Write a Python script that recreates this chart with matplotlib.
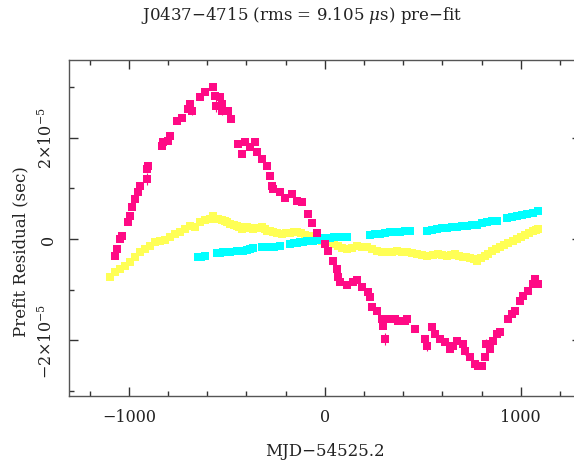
import matplotlib
matplotlib.use("Agg")
import matplotlib.pyplot as plt
from matplotlib.ticker import MultipleLocator, FixedLocator

plt.rcParams['font.family'] = ['DejaVu Serif']
plt.rcParams['mathtext.fontset'] = 'dejavuserif'

# ---- data (MJD-54525.2 in days, residuals in microseconds) ----
mag_x = [-1072, -1061, -1046, -1036, -1005, -995, -985, -969, -954, -944,
         -908, -906, -903, -832, -827, -801, -791, -755, -729, -699,
         -689, -678, -637, -612, -571, -563, -558, -535, -525, -523,
         -494, -479, -443, -423, -408, -382, -357, -346, -321, -295,
         -280, -270, -265, -229, -203, -168, -142, -117, -86, -65,
         -40, 1, 16, 42, 62, 67, 78, 113, 144, 164,
         190, 220, 231, 241, 266, 292, 297, 307, 322, 358,
         373, 409, 419, 460, 511, 521, 547, 562, 588, 613,
         639, 654, 675, 705, 716, 741, 767, 782, 802, 818,
         823, 843, 859, 879, 894, 935, 956, 971, 997, 1012,
         1037, 1063, 1073, 1088]
mag_y = [-3.4, -2.0, 0.0, 0.6, 3.4, 4.5, 6.3, 7.9, 9.3, 10.5,
         11.8, 13.8, 14.4, 18.4, 19.1, 19.3, 20.3, 23.3, 23.9, 25.7,
         26.6, 25.3, 28.0, 29.0, 30.0, 28.2, 26.2, 28.0, 26.6, 25.3,
         25.3, 23.7, 18.7, 16.8, 19.1, 18.2, 19.1, 17.2, 15.8, 14.4,
         12.4, 10.5, 9.9, 9.3, 8.1, 8.9, 7.5, 7.3, 4.9, 3.2,
         1.2, -1.0, -2.4, -4.3, -5.9, -7.5, -8.5, -9.1, -8.5, -8.1,
         -9.5, -10.5, -11.4, -13.4, -14.2, -15.8, -17.2, -19.7, -15.8, -15.8,
         -16.2, -16.2, -15.8, -17.8, -19.7, -21.1, -17.4, -18.7, -19.7, -20.3,
         -21.7, -21.1, -20.1, -20.7, -22.1, -23.3, -24.7, -25.1, -25.1, -23.3,
         -20.7, -21.7, -20.1, -18.7, -18.4, -15.8, -14.8, -14.2, -12.2, -11.2,
         -10.3, -8.9, -7.9, -8.9]
mag_err = [0.3, 0.3, 0.3, 0.3, 0.3, 0.3, 0.3, 0.3, 0.3, 0.3,
           1.2, 0.3, 0.3, 0.3, 0.3, 0.3, 0.3, 0.3, 0.3, 0.3,
           0.3, 0.8, 0.3, 0.3, 0.3, 0.3, 1.2, 0.3, 0.3, 0.8,
           0.3, 0.3, 0.3, 0.3, 0.3, 0.3, 0.3, 0.3, 0.3, 0.3,
           0.3, 0.3, 0.3, 0.3, 0.3, 0.3, 0.3, 0.3, 0.3, 0.3,
           0.3, 0.3, 0.3, 0.3, 0.3, 0.3, 0.6, 0.3, 0.3, 0.3,
           0.3, 0.3, 0.3, 0.3, 0.3, 0.3, 0.3, 1.2, 0.3, 0.3,
           0.3, 0.3, 0.8, 0.3, 0.3, 1.0, 0.3, 0.3, 0.3, 0.3,
           0.3, 0.3, 0.3, 0.3, 0.8, 0.3, 0.3, 0.3, 0.3, 0.3,
           1.0, 0.3, 0.3, 0.3, 0.3, 0.3, 0.3, 0.3, 0.3, 0.3,
           0.3, 0.3, 0.3, 0.3]

yel_x = [-1097, -1072, -1046, -1020, -995, -969, -944, -918, -893, -867,
         -842, -816, -791, -765, -740, -714, -689, -663, -637, -612,
         -586, -571, -546, -525, -510, -497, -484, -466, -449, -436,
         -423, -410, -398, -382, -367, -344, -321, -308, -295, -280,
         -265, -242, -219, -198, -178, -160, -142, -122, -101, -81,
         -61, -38, -15, 5, 26, 46, 67, 90, 113, 138,
         164, 190, 215, 240, 266, 292, 317, 342, 368, 394,
         419, 445, 471, 496, 522, 550, 578, 600, 624, 645,
         665, 685, 705, 723, 741, 759, 777, 797, 818, 835,
         853, 873, 894, 914, 935, 958, 981, 1001, 1022, 1042,
         1063, 1076, 1088]
yel_y = [-7.5, -6.5, -5.9, -5.3, -4.5, -3.6, -2.6, -2.0, -1.4, -0.6,
         -0.4, -0.2, 0.4, 1.0, 1.4, 2.0, 2.6, 2.4, 3.4, 3.7,
         3.9, 4.5, 3.9, 3.8, 3.6, 3.3, 3.0, 2.8, 2.6, 2.3,
         2.0, 2.2, 2.4, 2.2, 2.0, 2.2, 2.4, 2.0, 1.6, 1.5,
         1.4, 1.2, 1.0, 1.1, 1.2, 1.3, 1.4, 1.1, 0.8, 0.6,
         0.4, 0.0, -0.4, -0.5, -0.6, -1.0, -1.4, -1.7, -2.0, -1.7,
         -1.4, -1.5, -1.6, -2.0, -2.4, -2.5, -2.6, -2.5, -2.4, -2.5,
         -2.6, -2.8, -3.0, -3.2, -3.4, -3.2, -3.0, -3.2, -3.4, -3.2,
         -3.0, -3.3, -3.6, -3.6, -3.7, -4.0, -4.3, -3.8, -3.4, -2.9,
         -2.4, -2.0, -1.6, -1.2, -0.8, -0.4, 0.0, 0.4, 0.8, 1.2,
         1.6, 1.8, 2.0]

cya_x = [-647, -630, -612, -550, -535, -520, -502, -484, -449, -433,
         -416, -398, -382, -367, -321, -300, -280, -258, -229, -178,
         -160, -143, -127, -110, -93, -76, -58, -41, -25, -8,
         9, 26, 46, 67, 90, 113, 230, 255, 281, 307,
         332, 358, 384, 410, 435, 521, 546, 572, 598, 624,
         650, 675, 700, 726, 752, 777, 803, 828, 854, 879,
         930, 956, 981, 1007, 1032, 1060, 1088]
cya_y = [-3.6, -3.5, -3.4, -2.8, -2.7, -2.6, -2.6, -2.6, -2.4, -2.4,
         -2.3, -2.2, -2.0, -1.8, -1.6, -1.6, -1.6, -1.5, -1.4, -1.0,
         -0.8, -0.7, -0.6, -0.5, -0.45, -0.4, -0.3, -0.15, 0.0, 0.1,
         0.1, 0.2, 0.3, 0.4, 0.4, 0.4, 0.8, 0.9, 1.0, 1.2,
         1.4, 1.4, 1.4, 1.5, 1.6, 1.6, 1.8, 2.0, 2.1, 2.2,
         2.3, 2.4, 2.5, 2.6, 2.7, 2.8, 3.1, 3.4, 3.5, 3.6,
         4.1, 4.3, 4.5, 4.7, 4.9, 5.2, 5.5]

x_ticks = [-1000, 0, 1000]
x_ticklabels = ["\u22121000", "0", "1000"]
y_ticks = [-2e-5, 0, 2e-5]
y_ticklabels = [r"$-2{\times}10^{-5}$", "0", r"$2{\times}10^{-5}$"]

US = 1e-6
MAG = "#FF0A85"
YEL = "#FFFF55"
CYA = "#00FFFF"
MS = 5.3

fig = plt.figure(figsize=(5.74, 4.64), dpi=100)
ax = fig.add_axes([69/574, 1 - 396.7/464, (580.7 - 69)/574, (396.7 - 61)/464])

ax.errorbar(yel_x, [v * US for v in yel_y], yerr=[0.3 * US] * len(yel_y),
            fmt='s', color=YEL, ms=MS, mew=0, elinewidth=0.8, capsize=1.5,
            capthick=0.8, zorder=2)
ax.errorbar(cya_x, [v * US for v in cya_y], yerr=[0.2 * US] * len(cya_y),
            fmt='s', color=CYA, ms=MS, mew=0, elinewidth=0.8, capsize=1.5,
            capthick=0.8, zorder=3)
ax.errorbar(mag_x, [v * US for v in mag_y], yerr=[e * US for e in mag_err],
            fmt='s', color=MAG, ms=MS, mew=0, elinewidth=0.8, capsize=1.8,
            capthick=0.8, zorder=4)

ax.set_xlim(-1306, 1306)
ax.set_ylim(-30.9e-6, 35.3e-6)

ax.xaxis.set_major_locator(FixedLocator(x_ticks))
ax.set_xticklabels(x_ticklabels)
ax.xaxis.set_minor_locator(MultipleLocator(200))
ax.yaxis.set_major_locator(FixedLocator(y_ticks))
ax.set_yticklabels(y_ticklabels, rotation=90, va='center')
ax.yaxis.set_minor_locator(MultipleLocator(1e-5))

frame_col = "#555555"
for s in ax.spines.values():
    s.set_color(frame_col)
    s.set_linewidth(1.0)
ax.tick_params(which='both', direction='in', top=True, right=True,
               color="#333333", width=1.0, labelsize=11.5, labelcolor="#222222")
ax.tick_params(which='major', length=6.5)
ax.tick_params(which='minor', length=3.5)
ax.tick_params(axis='x', which='major', pad=9)
ax.tick_params(axis='y', which='major', pad=9)

fig.text(302/574, 1 - 15/464, r"J0437$-$4715 (rms = 9.105 $\mu$s) pre$-$fit",
         ha='center', va='center', fontsize=12, color="#222222")
fig.text(325/574, 1 - 452/464, "MJD\u221254525.2", ha='center', va='center',
         fontsize=12, color="#222222")
fig.text(21/574, 1 - 252/464, "Prefit Residual (sec)", ha='center',
         va='center', rotation=90, fontsize=12, color="#222222")

fig.savefig("out.png", dpi=100)
